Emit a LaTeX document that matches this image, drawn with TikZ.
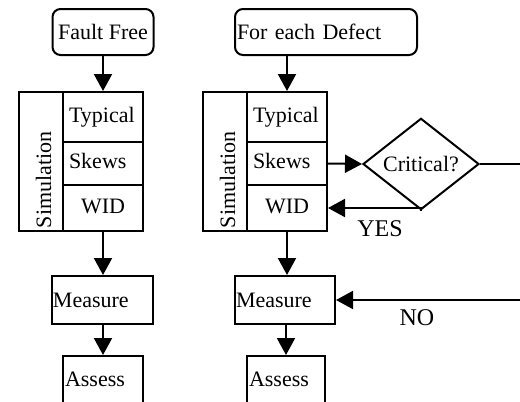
\documentclass[tikz,border=0pt]{standalone}
\usepackage{fontspec}
\setmainfont{Liberation Serif}
\usetikzlibrary{arrows.meta,shapes.geometric}
\begin{document}
\begin{tikzpicture}[x=0.5pt,y=-0.5pt,
  font=\fontsize{11}{13}\selectfont,
  line width=1pt,
  startbox/.style={draw, rounded corners=4pt, minimum height=23pt, inner sep=0pt},
  simcol/.style={draw, minimum width=22pt, minimum height=69.5pt, inner sep=0pt},
  row/.style={draw, text width=34pt, inner xsep=3pt, inner ysep=0pt, align=left,
    text height=7.6pt, text depth=2.4pt},
  simtext/.style={rotate=90, anchor=base west, inner sep=0pt},
  stepbox/.style={draw, minimum height=24pt, inner ysep=0pt, inner xsep=0.5pt, align=left},
  assessbox/.style={draw, anchor=north, inner xsep=1pt, inner ysep=0pt, align=left,
    text height=15pt, text depth=25pt},
  decision/.style={draw, diamond, minimum width=58pt, minimum height=38pt, inner sep=0pt},
  answer/.style={font=\fontsize{12}{14}\selectfont},
  flow/.style={-{Triangle[width=9pt,length=8.5pt]}}
]
\clip (0,0) rectangle (520,402);

% fault-free branch
\node[startbox, minimum width=50.5pt] (ff) at (103,32) {Fault Free};
\node[simcol] (simL) at (41,161.5) {};
\node[simtext] (simLtxt) at (51,229) {Simulation};
\node[row, minimum height=25pt] (typL) at (103,117) {Typical};
\node[row, minimum height=21.5pt] (skL) at (103,163.5) {Skews};
\node[row, minimum height=23pt, align=center] (widL) at (103,208) {WID};
\node[stepbox, text width=49.5pt] (measL) at (102.5,300) {Measure};
\node[assessbox, text width=38pt] (assL) at (103,355) {Assess};

% defect branch
\node[startbox, text width=89pt, inner xsep=1pt, align=left] (fed) at (326,32) {For each Defect};
\node[simcol] (simR) at (225,161.5) {};
\node[simtext] (simRtxt) at (235,229) {Simulation};
\node[row, minimum height=25pt] (typR) at (287,117) {Typical};
\node[row, minimum height=21.5pt] (skR) at (287,163.5) {Skews};
\node[row, minimum height=23pt, align=center] (widR) at (287,208) {WID};
\node[stepbox, text width=49pt] (measR) at (285,300) {Measure};
\node[assessbox, text width=37pt] (assR) at (286,355) {Assess};

\node[decision] (crit) at (421,164) {Critical?};
\node[answer] (yes) at (380,229) {YES};
\node[answer] (no) at (417,318) {NO};
\coordinate (outA) at (530,164);
\coordinate (outB) at (530,300);

% connectors
\draw[flow] (ff.south) -- (typL.north);
\draw[flow] (widL.south) -- (widL.south |- measL.north);
\draw[flow] (assL.north |- measL.south) -- (assL.north);

\draw[flow] (fed.south -| typR.north) -- (typR.north);
\draw[flow] (widR.south) -- (widR.south |- measR.north);
\draw[flow] (assR.north |- measR.south) -- (assR.north);

\draw[flow] (skR.east) -- (crit.west);
\draw (crit.east) -- (outA);
\draw[flow] (crit.south) |- (widR.east);
\draw[flow] (outB) -- (measR.east);
\end{tikzpicture}
\end{document}
